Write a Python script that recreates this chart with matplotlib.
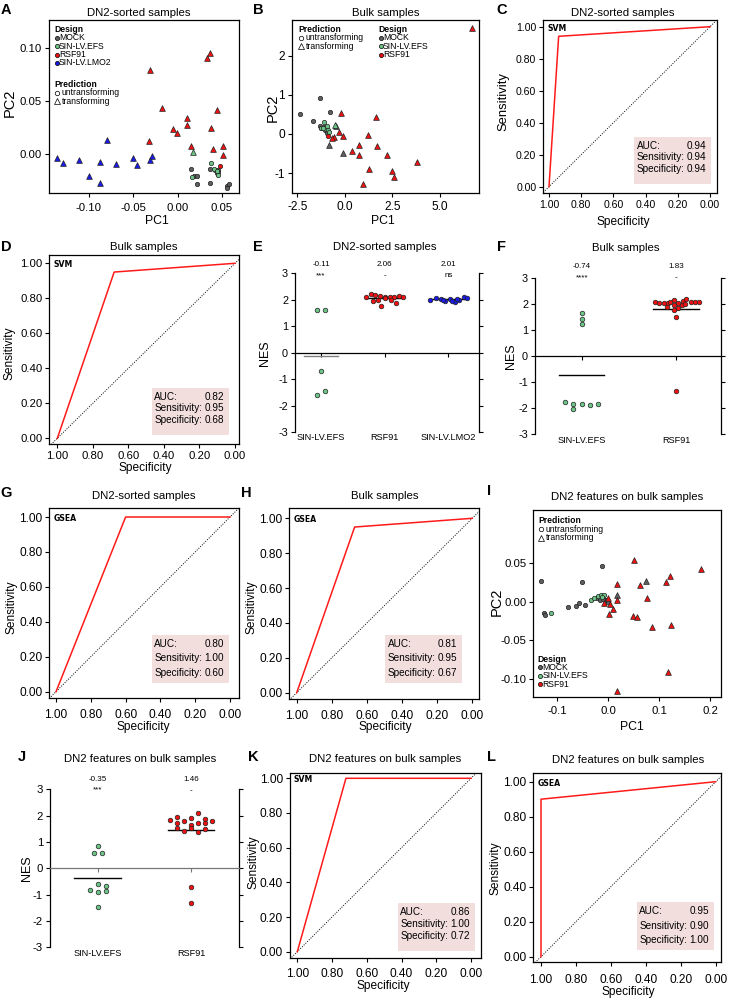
import matplotlib
matplotlib.use('Agg')
import matplotlib.pyplot as plt
from matplotlib.patches import Rectangle
from matplotlib.lines import Line2D

plt.rcParams['font.family'] = ['Liberation Sans', 'DejaVu Sans']

W, H = 730, 999

# ---------------- data ----------------
design_colors = {'MOCK': '#5e5e5e', 'SIN-LV.EFS': '#6cc586',
                 'RSF91': '#ee1111', 'SIN-LV.LMO2': '#1a1ae6'}

# A: PCA, DN2-sorted samples
pcaA_pc1 = [0.015, 0.018, 0.022, 0.022, 0.036, 0.036, 0.0425, 0.044, 0.045, 0.046, 0.056, 0.058, 0.056,
            0.016, 0.038, 0.041, 0.045, 0.044,
            0.048,
            0.017,
            -0.136, -0.129, -0.111, -0.100, -0.088, -0.088, -0.080, -0.070, -0.050, -0.046, -0.031, -0.029,
            -0.031, -0.018, -0.032, -0.005, -0.001, 0.010, 0.010, 0.015, 0.033, 0.037, 0.044, 0.038, 0.040,
            0.051, 0.051]
pcaA_pc2 = [-0.0145, -0.021, -0.021, -0.029, -0.014, -0.028, -0.0155, -0.018, -0.0155, -0.017, -0.030, -0.029,
            -0.032,
            -0.022, -0.0085, -0.014, -0.020, -0.016,
            -0.012,
            0.002,
            -0.004, -0.009, -0.006, -0.021, -0.008, -0.028, 0.013, -0.010, -0.004, -0.011, -0.006, -0.002,
            0.079, 0.043, 0.012, 0.023, 0.020, 0.034, 0.027, 0.007, 0.090, 0.095, 0.041, 0.024, 0.004,
            0.007, -0.001]
pcaA_design = ['MOCK'] * 13 + ['SIN-LV.EFS'] * 5 + ['RSF91'] + ['SIN-LV.EFS'] + ['SIN-LV.LMO2'] * 12 + ['RSF91'] * 15
pcaA_pred = ['U'] * 19 + ['T'] * 28

# B: PCA, bulk samples
pcaB_pc1 = [-2.37, -1.70, -1.32, -0.79, -1.32, -1.23, -1.05, -0.93, -1.10,
            -1.11, -1.25, -1.00, -0.89, -0.95, -0.84, -1.15,
            -0.88,
            -0.84, -0.09, -0.47,
            -0.53,
            6.67, -0.18, 1.63, -0.30, -0.12, -0.56, -0.70, 1.23, 0.75, 1.67, 0.35, 0.75, 2.19, 3.77, 1.28,
            2.46, 2.60, 0.96]
pcaB_pc2 = [0.51, 0.34, 0.91, 0.55, 0.20, 0.14, 0.10, 0.03, 0.18,
            0.30, 0.15, 0.12, 0.10, 0.20, 0.06, 0.14,
            -0.05,
            -0.28, -0.48, 0.20,
            0.23,
            2.70, 0.53, 0.43, 0.06, -0.05, -0.07, -0.11, -0.03, -0.28, -0.31, -0.43, -0.54, -0.54, -0.73, -0.89,
            -0.96, -1.09, -1.29]
pcaB_design = ['MOCK'] * 9 + ['SIN-LV.EFS'] * 7 + ['RSF91'] + ['MOCK'] * 3 + ['SIN-LV.EFS'] + ['RSF91'] * 18
pcaB_pred = ['U'] * 17 + ['T'] * 22

# I: PCA of DN2 features on bulk samples
pcaI_pc1 = [-0.132, -0.051, -0.013, -0.127, -0.124, -0.078, -0.064, -0.057, -0.046, -0.022, -0.016, -0.005, -0.010,
            -0.113, -0.033, -0.027, -0.020, -0.015, -0.008, -0.012,
            0.074, 0.018, 0.000,
            0.050, 0.018, 0.062, 0.018, 0.000, -0.008, 0.003, 0.010, 0.001, 0.048, 0.056, 0.077, 0.087, 0.124,
            0.113, 0.121, 0.183, 0.118, 0.018]
pcaI_pc2 = [0.027, 0.026, 0.047, -0.015, -0.017, -0.0065, -0.0056, -0.002, -0.0035, 0.005, 0.003, 0.002, 0.004,
            -0.015, 0.002, 0.0056, 0.008, 0.0095, 0.0087, 0.006,
            0.027, 0.0085, 0.001,
            0.054, 0.023, 0.0216, 0.002, 0.005, -0.001, -0.003, -0.0087, -0.016, -0.0186, -0.0195, 0.005, -0.0325,
            -0.030, 0.026, 0.033, 0.043, -0.091, -0.1156]
pcaI_design = ['MOCK'] * 13 + ['SIN-LV.EFS'] * 7 + ['MOCK'] * 3 + ['RSF91'] * 19
pcaI_pred = ['U'] * 20 + ['T'] * 22

# ROC summaries (C, D, G, H, K, L)
roc_method = ['SVM', 'SVM', 'GSEA', 'GSEA', 'SVM', 'GSEA']
roc_auc = [0.94, 0.82, 0.80, 0.81, 0.86, 0.95]
roc_sens = [0.94, 0.95, 1.00, 0.95, 1.00, 0.90]
roc_spec = [0.94, 0.68, 0.60, 0.67, 0.72, 1.00]

# NES dot plots
E_groups = ['SIN-LV.EFS', 'RSF91', 'SIN-LV.LMO2']
E_nes = [[1.63, 1.61, -0.71, -1.46, -1.62],
         [2.12, 2.2, 2.18, 2.15, 2.12, 2.1, 2.1, 2.15, 2.12, 1.95, 2.0, 2.05, 2.0, 1.88, 1.78],
         [1.98, 2.05, 2.04, 1.95, 2.03, 1.92, 2.0, 2.12, 2.05, 2.0, 1.97, 2.02]]
E_jit = [[-0.065, 0.065, 0.0, 0.065, -0.065],
         [-0.29, -0.22, -0.15, -0.08, 0.0, 0.08, 0.15, 0.22, 0.29, -0.18, -0.1, 0.0, 0.1, 0.18, -0.05],
         [-0.28, -0.2, -0.12, -0.05, 0.03, 0.1, 0.17, 0.24, 0.3, -0.08, 0.05, 0.13]]
E_mean = [-0.11, 2.06, 2.01]
E_sig = ['***', '-', 'ns']

F_groups = ['SIN-LV.EFS', 'RSF91']
F_nes = [[1.68, 1.43, 1.25, -1.76, -1.83, -2.05, -1.83, -1.89, -1.83],
         [2.07, 2.03, 2.03, 2.03, 2.10, 2.16, 2.06, 2.12, 2.19, 2.10, 2.07, 2.07, 1.90, 1.97, 1.96, 2.0,
          1.78, 1.87, 1.52, -1.34]]
F_jit = [[0, 0, 0, -0.177, -0.088, -0.088, 0, 0.088, 0.177],
         [-0.22, -0.18, -0.13, -0.09, -0.06, -0.02, 0.02, 0.07, 0.11, 0.16, 0.2, 0.24, -0.1, -0.02, 0.06, 0.1,
          -0.02, 0.02, 0, 0]]
F_mean = [-0.74, 1.83]
F_sig = ['****', '-']

J_groups = ['SIN-LV.EFS', 'RSF91']
J_nes = [[0.86, 0.57, 0.57, -0.59, -0.82, -0.90, -0.67, -0.87, -1.46],
         [1.84, 1.96, 1.81, 1.90, 2.09, 1.86, 1.80, 1.73, 1.71, 1.71, 1.65, 1.52, 1.43, 1.52, 1.38, 1.49,
          -0.70, -1.30]]
J_jit = [[0, -0.04, 0.05, 0, -0.086, 0, 0.089, 0.089, 0],
         [-0.225, -0.154, -0.075, 0, 0.075, 0.15, 0.225, -0.154, 0.075, 0.15, 0, -0.154, -0.075, 0, 0.075, 0.15,
          0, 0]]
J_mean = [-0.35, 1.46]
J_sig = ['***', '-']

# ---------------- helpers ----------------
fig = plt.figure(figsize=(W / 100, H / 100), dpi=100)


def px_axes(l, t, r, b):
    return fig.add_axes([l / W, 1 - b / H, (r - l) / W, (b - t) / H])


def lims(p_lo, p_hi, p0, v0, p1, v1):
    k = (v1 - v0) / (p1 - p0)
    return v0 + (p_lo - p0) * k, v0 + (p_hi - p0) * k


def ftext(x, y, s, **kw):
    kw.setdefault('ha', 'center')
    kw.setdefault('va', 'center')
    return fig.text(x / W, 1 - y / H, s, **kw)


def fmarker(x, y, marker, face, size, edge='k'):
    fig.add_artist(Line2D([x / W], [1 - y / H], marker=marker, markerfacecolor=face,
                          markeredgecolor=edge, markersize=size, markeredgewidth=0.5,
                          linestyle='none', transform=fig.transFigure))


def style_box(ax, fs=7.5, xpad=2.0, ypad=2.0):
    for sp in ax.spines.values():
        sp.set_linewidth(0.9)
    ax.tick_params(axis='both', direction='out', length=3, width=0.8, labelsize=fs)
    ax.tick_params(axis='x', pad=xpad)
    ax.tick_params(axis='y', pad=ypad)


# ---------------- PCA panels ----------------
def pca_panel(box, pc1, pc2, design, pred, xcal, ycal, xticks, xlabs, yticks, ylabs, xpad, fs):
    ax = px_axes(*box)
    ax.set_xlim(lims(box[0], box[2], *xcal))
    ax.set_ylim(lims(box[3], box[1], *ycal))
    for x, y, d, p in zip(pc1, pc2, design, pred):
        if p == 'U':
            ax.scatter(x, y, s=10, marker='o', color=design_colors[d], edgecolors='#222222',
                       linewidths=0.5, zorder=3)
        else:
            ax.scatter(x, y, s=17, marker='^', color=design_colors[d], edgecolors='#222222',
                       linewidths=0.5, zorder=4)
    ax.set_xticks(xticks)
    ax.set_xticklabels(xlabs)
    ax.set_yticks(yticks)
    ax.set_yticklabels(ylabs)
    style_box(ax, fs=fs, xpad=xpad)
    return ax


pca_panel((49, 20, 239, 193), pcaA_pc1, pcaA_pc2, pcaA_design, pcaA_pred,
          (89, -0.10, 222, 0.05), (153.7, 0.0, 47.7, 0.10),
          [-0.10, -0.05, 0.00, 0.05], ['-0.10', '-0.05', '0.00', '0.05'],
          [0.00, 0.05, 0.10], ['0.00', '0.05', '0.10'], 4, 8.2)
pca_panel((291.7, 20, 479, 193), pcaB_pc1, pcaB_pc2, pcaB_design, pcaB_pred,
          (297.3, -2.5, 440, 5.0), (173, -1, 55.7, 2),
          [-2.5, 0.0, 2.5, 5.0], ['-2.5', '0.0', '2.5', '5.0'],
          [-1, 0, 1, 2], ['-1', '0', '1', '2'], 3, 8.6)
pca_panel((533.3, 510, 720.7, 696.7), pcaI_pc1, pcaI_pc2, pcaI_design, pcaI_pred,
          (557.3, -0.1, 710, 0.2), (679, -0.10, 563.3, 0.05),
          [-0.1, 0.0, 0.1, 0.2], ['-0.1', '0.0', '0.1', '0.2'],
          [-0.10, -0.05, 0.00, 0.05], ['-0.10', '-0.05', '0.00', '0.05'], 4, 8.2)

LEG = 6.2


def design_legend(x, y, groups):
    ftext(x, y, 'Design', fontsize=LEG, fontweight='bold', ha='left')
    for i, g in enumerate(groups):
        yy = y + 8.4 * (i + 1)
        fmarker(x + 2.5, yy, 'o', design_colors[g], 3)
        ftext(x + 5, yy, g, fontsize=LEG, ha='left')


def pred_legend(x, y):
    ftext(x, y, 'Prediction', fontsize=LEG, fontweight='bold', ha='left')
    fmarker(x + 2.5, y + 8.4, 'o', 'none', 3.2)
    ftext(x + 7.5, y + 8.4, 'untransforming', fontsize=LEG, ha='left')
    fmarker(x + 2.5, y + 16.8, '^', 'none', 4)
    ftext(x + 7.5, y + 16.8, 'transforming', fontsize=LEG, ha='left')


design_legend(54, 29.3, ['MOCK', 'SIN-LV.EFS', 'RSF91', 'SIN-LV.LMO2'])
pred_legend(54, 84.3)
pred_legend(298.5, 29.3)
design_legend(378, 29.3, ['MOCK', 'SIN-LV.EFS', 'RSF91'])
pred_legend(538.5, 520.7)
design_legend(537.7, 659, ['MOCK', 'SIN-LV.EFS', 'RSF91'])

# ---------------- ROC panels ----------------
roc_layout = [
    # box, x px of (1, 0), y px of (1, 0), xpad, auc box (l, t), line spacing, tick size
    ((543.3, 20, 717.3, 192.7), (549, 710), (26.7, 186.7), 2.0, (634, 136.7), 11.7, 7.6),
    ((49.3, 254.7, 239.3, 444), (57.3, 235), (263.3, 438.3), 2.0, (151.7, 387.7), 11.7, 8.2),
    ((49.3, 508, 238.7, 698.3), (56, 230), (517, 691.7), 5.0, (151.7, 635), 14.3, 8.6),
    ((289.3, 508, 479.3, 699), (296.7, 472.3), (518.3, 692.7), 5.0, (385, 635), 14.3, 8.6),
    ((290, 772.7, 480.7, 958.3), (297.3, 471), (778.3, 951.7), 4.0, (397.7, 903.3), 12.0, 8.6),
    ((533.3, 773.3, 720.7, 961.7), (541, 715.7), (781.7, 956.7), 6.0, (636.7, 902.3), 14.3, 8.6),
]
roc_ticks = [1.0, 0.8, 0.6, 0.4, 0.2, 0.0]

for i, (box, xpx, ypx, xpad, abox, lsp, fs) in enumerate(roc_layout):
    ax = px_axes(*box)
    xl = lims(box[0], box[2], xpx[0], 1.0, xpx[1], 0.0)
    yl = lims(box[3], box[1], ypx[1], 0.0, ypx[0], 1.0)
    ax.set_xlim(xl)
    ax.set_ylim(yl)
    ax.plot(xl, [1 - xl[0], 1 - xl[1]], color='k', lw=0.7, ls=(0, (1, 1.5)), zorder=2)
    ax.plot([1.0, roc_spec[i], 0.0], [0.0, roc_sens[i], 1.0], color='#ff1a1a', lw=1.1, zorder=3)
    ax.set_xticks(roc_ticks)
    ax.set_xticklabels(['%.2f' % t for t in roc_ticks])
    ax.set_yticks(roc_ticks)
    ax.set_yticklabels(['%.2f' % t for t in roc_ticks])
    style_box(ax, fs=fs, xpad=xpad)
    ftext(box[0] + 4, ypx[0] + 1.5, roc_method[i], fontsize=5.6, fontweight='bold', ha='left',
          family='DejaVu Sans')
    bl, bt = abox
    fig.add_artist(Rectangle((bl / W, 1 - (bt + 47.5) / H), 77 / W, 47.5 / H,
                             transform=fig.transFigure, facecolor='#f3dede', edgecolor='none'))
    rows = [('AUC:', roc_auc[i]), ('Sensitivity:', roc_sens[i]), ('Specificity:', roc_spec[i])]
    for j, (lab, v) in enumerate(rows):
        yy = bt + 9 + lsp * j
        ftext(bl + 2.5, yy, lab, fontsize=7.2, ha='left')
        ftext(bl + 72.5, yy, '%.2f' % v, fontsize=7.2, ha='right')


# ---------------- NES panels ----------------
def nes_panel(box, cat_px, groups, nes, jit, means, sig, ann_y, lab_y, half, zero_color, mean_colors, fs):
    ax = px_axes(*box)
    ax.set_ylim(-3, 3)
    unit = cat_px[1] - cat_px[0]
    ax.set_xlim(-(cat_px[0] - box[0]) / unit, len(groups) - 1 + (box[2] - cat_px[-1]) / unit)
    for i, g in enumerate(groups):
        ax.scatter([i + o for o in jit[i]], nes[i], s=11, color=design_colors[g], edgecolors='#222222',
                   linewidths=0.5, zorder=3, clip_on=False)
        ax.plot([i - half, i + half], [means[i], means[i]], color=mean_colors[i], lw=1.0, zorder=2)
        ftext(cat_px[i], ann_y, '%.2f' % means[i], fontsize=5.8)
        ftext(cat_px[i], ann_y + 11, sig[i], fontsize=5.8)
        ftext(cat_px[i], lab_y, g, fontsize=6.6)
    ax.spines['top'].set_visible(False)
    ax.spines['bottom'].set_position(('data', 0))
    ax.spines['bottom'].set_color(zero_color)
    for sp in ('left', 'right', 'bottom'):
        ax.spines[sp].set_linewidth(0.9)
    ax.set_xticks(range(len(groups)))
    ax.set_xticklabels([])
    ax.tick_params(axis='x', direction='out', length=3, width=0.8, color=zero_color)
    ax.set_yticks(range(-3, 4))
    ax.set_yticklabels([str(v) for v in range(-3, 4)])
    ax.tick_params(axis='y', direction='out', length=3, width=0.8, labelsize=fs, right=True,
                   labelright=False, pad=2)
    return ax


nes_panel((295, 273.3, 479.3, 432), [321, 384.7, 448.3], E_groups, E_nes, E_jit, E_mean, E_sig,
          264.5, 437, 0.27, 'k', ['#808080', 'k', 'k'], 7.8)
nes_panel((535, 278.3, 720.7, 434), [581.7, 676], F_groups, F_nes, F_jit, F_mean, F_sig,
          266.7, 441, 0.24, 'k', ['k', 'k'], 7.8)
nes_panel((50, 789.3, 239.3, 947.3), [97.7, 191], J_groups, J_nes, J_jit, J_mean, J_sig,
          779.3, 953.3, 0.25, '#777777', ['k', 'k'], 8.2)

# ---------------- titles, axis labels, panel letters ----------------
titles = [(139, 12.7, 'DN2-sorted samples'), (385.7, 12.7, 'Bulk samples'), (622.3, 12.7, 'DN2-sorted samples'),
          (144, 247.3, 'Bulk samples'), (385, 247.3, 'DN2-sorted samples'), (625.7, 248.3, 'Bulk samples'),
          (144, 496, 'DN2-sorted samples'), (385, 496, 'Bulk samples'),
          (626.7, 497, 'DN2 features on bulk samples'),
          (140, 759.3, 'DN2 features on bulk samples'), (385, 759.3, 'DN2 features on bulk samples'),
          (628.3, 760, 'DN2 features on bulk samples')]
for x, y, s in titles:
    ftext(x, y, s, fontsize=8.2)

xlabels = [(156.7, 220.5, 'PC1', 8.8), (383.3, 220.5, 'PC1', 8.8), (623.3, 221.7, 'Specificity', 8.6),
           (145, 468.3, 'Specificity', 8.6), (143.3, 726.7, 'Specificity', 8.6),
           (385, 726.7, 'Specificity', 8.6), (631.7, 726.7, 'PC1', 8.8),
           (383.3, 985.7, 'Specificity', 8.6), (628.3, 992.3, 'Specificity', 8.6)]
for x, y, s, fs in xlabels:
    ftext(x, y, s, fontsize=fs)

ylabels = [(9.3, 103.3, 'PC2', 10.5), (272.5, 108, 'PC2', 10.5), (503.3, 101.7, 'Sensitivity', 9.4),
           (10, 353.3, 'Sensitivity', 8.6), (265, 353.3, 'NES', 9), (510.7, 356, 'NES', 9),
           (11.7, 606.7, 'Sensitivity', 8.6), (251.7, 606.7, 'Sensitivity', 8.6), (497, 601.7, 'PC2', 10.5),
           (26.7, 868.3, 'NES', 9), (253.3, 861.7, 'Sensitivity', 8.6), (495, 868.3, 'Sensitivity', 8.6)]
for x, y, s, fs in ylabels:
    ftext(x, y, s, fontsize=fs, rotation=90)

letters = [(6, 10, 'A'), (258, 10, 'B'), (502, 10, 'C'), (6, 247, 'D'), (258, 247, 'E'), (502, 247, 'F'),
           (6, 493, 'G'), (246, 493, 'H'), (489, 491, 'I'), (22, 757, 'J'), (253, 757, 'K'), (492, 757, 'L')]
for x, y, s in letters:
    ftext(x, y, s, fontsize=10.5, fontweight='bold')

fig.savefig('out.png', dpi=100)
